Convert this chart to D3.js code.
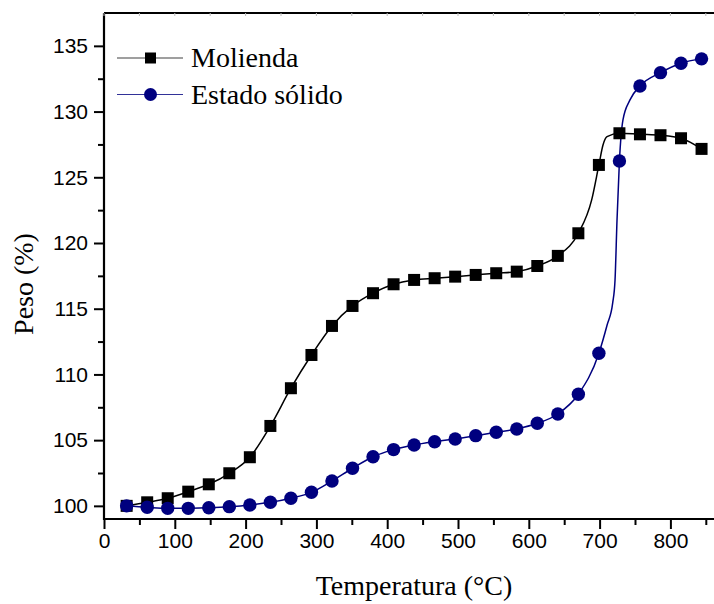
<!DOCTYPE html>
<html>
<head>
<meta charset="utf-8">
<script src="https://cdn.jsdelivr.net/npm/d3@7"></script>
<style>
  html, body { margin: 0; padding: 0; background: #ffffff; }
  svg { display: block; }
</style>
</head>
<body>
<svg id="chart" width="714" height="604"></svg>
<script>
// Temperatures of the plotted markers (°C)
const temperatures = [32, 61, 90, 119, 148, 177, 206, 235, 264, 293, 322, 351, 380, 409, 438,
  467, 496, 525, 554, 583, 612, 641, 670, 699, 728, 757, 786, 815, 844];

// Weight (%) at each marker temperature
const molienda = [100.0, 100.27, 100.58, 101.08, 101.64, 102.48, 103.70, 106.08, 108.95, 111.48,
  113.69, 115.21, 116.18, 116.86, 117.19, 117.32, 117.44, 117.57, 117.70, 117.82, 118.25, 119.02,
  120.74, 125.94, 128.35, 128.27, 128.20, 127.97, 127.16];
const estadoSolido = [100.0, 99.89, 99.81, 99.81, 99.86, 99.94, 100.07, 100.27, 100.58, 101.03,
  101.89, 102.86, 103.74, 104.28, 104.63, 104.88, 105.09, 105.34, 105.60, 105.85, 106.28, 106.99,
  108.49, 111.61, 126.24, 131.95, 132.96, 133.68, 134.01];

// Additional trace readings between markers where the curves turn sharply
const moliendaTraceT = [688.8, 704.8, 710.5];
const moliendaTraceW = [123.28, 127.46, 128.09];
const estadoTraceT = [710.6, 718.5, 721.8, 724.6, 733.0, 742.9];
const estadoTraceW = [113.76, 115.44, 117.19, 121.75, 129.37, 130.89];

// Axis ticks
const xTicks = [0, 100, 200, 300, 400, 500, 600, 700, 800];
const xMinorTicks = [50, 150, 250, 350, 450, 550, 650, 750, 850];
const yTicks = [100, 105, 110, 115, 120, 125, 130, 135];
const yMinorTicks = [102.5, 107.5, 112.5, 117.5, 122.5, 127.5, 132.5];

const seriesNames = ["Molienda", "Estado sólido"];
const seriesColors = ["#000000", "#00007f"];

const svg = d3.select("#chart");
const W = 714, H = 604;
const plotLeft = 104, plotTop = 13, plotBottom = 519;

const x = d3.scaleLinear().domain([0, 880]).range([plotLeft, plotLeft + 880 * 0.708]);
const y = d3.scaleLinear().domain([99, 137.5]).range([plotBottom, plotTop]);

svg.append("rect").attr("width", W).attr("height", H).attr("fill", "#fff");

const sansFont = "'Liberation Sans', Arial, sans-serif";
const serifFont = "'Liberation Serif', 'Times New Roman', serif";

// Bottom axis: major ticks with labels, minor ticks without
const gx = svg.append("g").attr("transform", `translate(0,${plotBottom})`);
gx.call(d3.axisBottom(x).tickValues(xTicks).tickSize(10).tickPadding(4).tickFormat(d3.format("d")));
const gxm = svg.append("g").attr("transform", `translate(0,${plotBottom})`);
gxm.call(d3.axisBottom(x).tickValues(xMinorTicks).tickSize(6).tickFormat(""));
gxm.select(".domain").remove();

// Left axis
const gy = svg.append("g").attr("transform", `translate(${plotLeft},0)`);
gy.call(d3.axisLeft(y).tickValues(yTicks).tickSize(10).tickPadding(6).tickFormat(d3.format("d")));
const gym = svg.append("g").attr("transform", `translate(${plotLeft},0)`);
gym.call(d3.axisLeft(y).tickValues(yMinorTicks).tickSize(6).tickFormat(""));
gym.select(".domain").remove();

[gx, gxm, gy, gym].forEach(g => {
  g.select(".domain").attr("stroke", "#000").attr("stroke-width", 2.2);
  g.selectAll(".tick line").attr("stroke", "#000").attr("stroke-width", 2);
  g.selectAll(".tick text").attr("fill", "#000").style("font-family", sansFont).style("font-size", "21px");
});
gx.select(".domain").attr("d", `M${plotLeft},0H${W + 10}`);
gy.select(".domain").attr("d", `M0,${plotBottom + 1}V${plotTop}`);

// Top frame with faint inner ticks
svg.append("line").attr("x1", plotLeft).attr("x2", W + 10).attr("y1", plotTop).attr("y2", plotTop)
  .attr("stroke", "#000").attr("stroke-width", 2.2);
svg.append("g").selectAll("line").data(xTicks.concat(xMinorTicks)).join("line")
  .attr("x1", d => x(d)).attr("x2", d => x(d)).attr("y1", plotTop).attr("y2", plotTop + 3)
  .attr("stroke", "#bbb").attr("stroke-width", 1);

// Series curves and markers
function tracePoints(ts, ws, extraT, extraW) {
  const pts = ts.map((t, i) => [t, ws[i]]).concat(extraT.map((t, i) => [t, extraW[i]]));
  return pts.sort((a, b) => a[0] - b[0]);
}
const line = d3.line().x(d => x(d[0])).y(d => y(d[1])).curve(d3.curveMonotoneX);

const plot = svg.append("g");
plot.append("path")
  .attr("d", line(tracePoints(temperatures, molienda, moliendaTraceT, moliendaTraceW)))
  .attr("fill", "none").attr("stroke", seriesColors[0]).attr("stroke-width", 1.5);
plot.append("path")
  .attr("d", line(tracePoints(temperatures, estadoSolido, estadoTraceT, estadoTraceW)))
  .attr("fill", "none").attr("stroke", seriesColors[1]).attr("stroke-width", 1.5);

const sq = 12;
plot.append("g").selectAll("rect").data(temperatures).join("rect")
  .attr("x", (d) => x(d) - sq / 2)
  .attr("y", (d, i) => y(molienda[i]) - sq / 2)
  .attr("width", sq).attr("height", sq).attr("fill", seriesColors[0]);
plot.append("g").selectAll("circle").data(temperatures).join("circle")
  .attr("cx", d => x(d))
  .attr("cy", (d, i) => y(estadoSolido[i]))
  .attr("r", 6.7).attr("fill", seriesColors[1]);

// Legend
const legend = svg.append("g");
const legendRows = [58, 94.5];
seriesNames.forEach((name, i) => {
  const g = legend.append("g").attr("transform", `translate(0,${legendRows[i]})`);
  g.append("line").attr("x1", 117).attr("x2", 183).attr("y1", 0).attr("y2", 0)
    .attr("stroke", seriesColors[i]).attr("stroke-width", 1.2).attr("opacity", i === 0 ? 0.75 : 0.8);
  if (i === 0) {
    g.append("rect").attr("x", 150.5 - 5.5).attr("y", -5.5).attr("width", 11).attr("height", 11)
      .attr("fill", seriesColors[0]);
  } else {
    g.append("circle").attr("cx", 150.5).attr("cy", 0).attr("r", 6.5).attr("fill", seriesColors[1]);
  }
  g.append("text").attr("x", 191).attr("y", 9).text(name)
    .style("font-family", serifFont).style("font-size", "28px").attr("fill", "#000");
});

// Axis titles
svg.append("text").attr("x", 414).attr("y", 595).attr("text-anchor", "middle")
  .style("font-family", serifFont).style("font-size", "28px").text("Temperatura (°C)");
svg.append("text").attr("transform", "translate(33,284) rotate(-90)").attr("text-anchor", "middle")
  .style("font-family", serifFont).style("font-size", "28px").text("Peso (%)");
</script>
</body>
</html>
